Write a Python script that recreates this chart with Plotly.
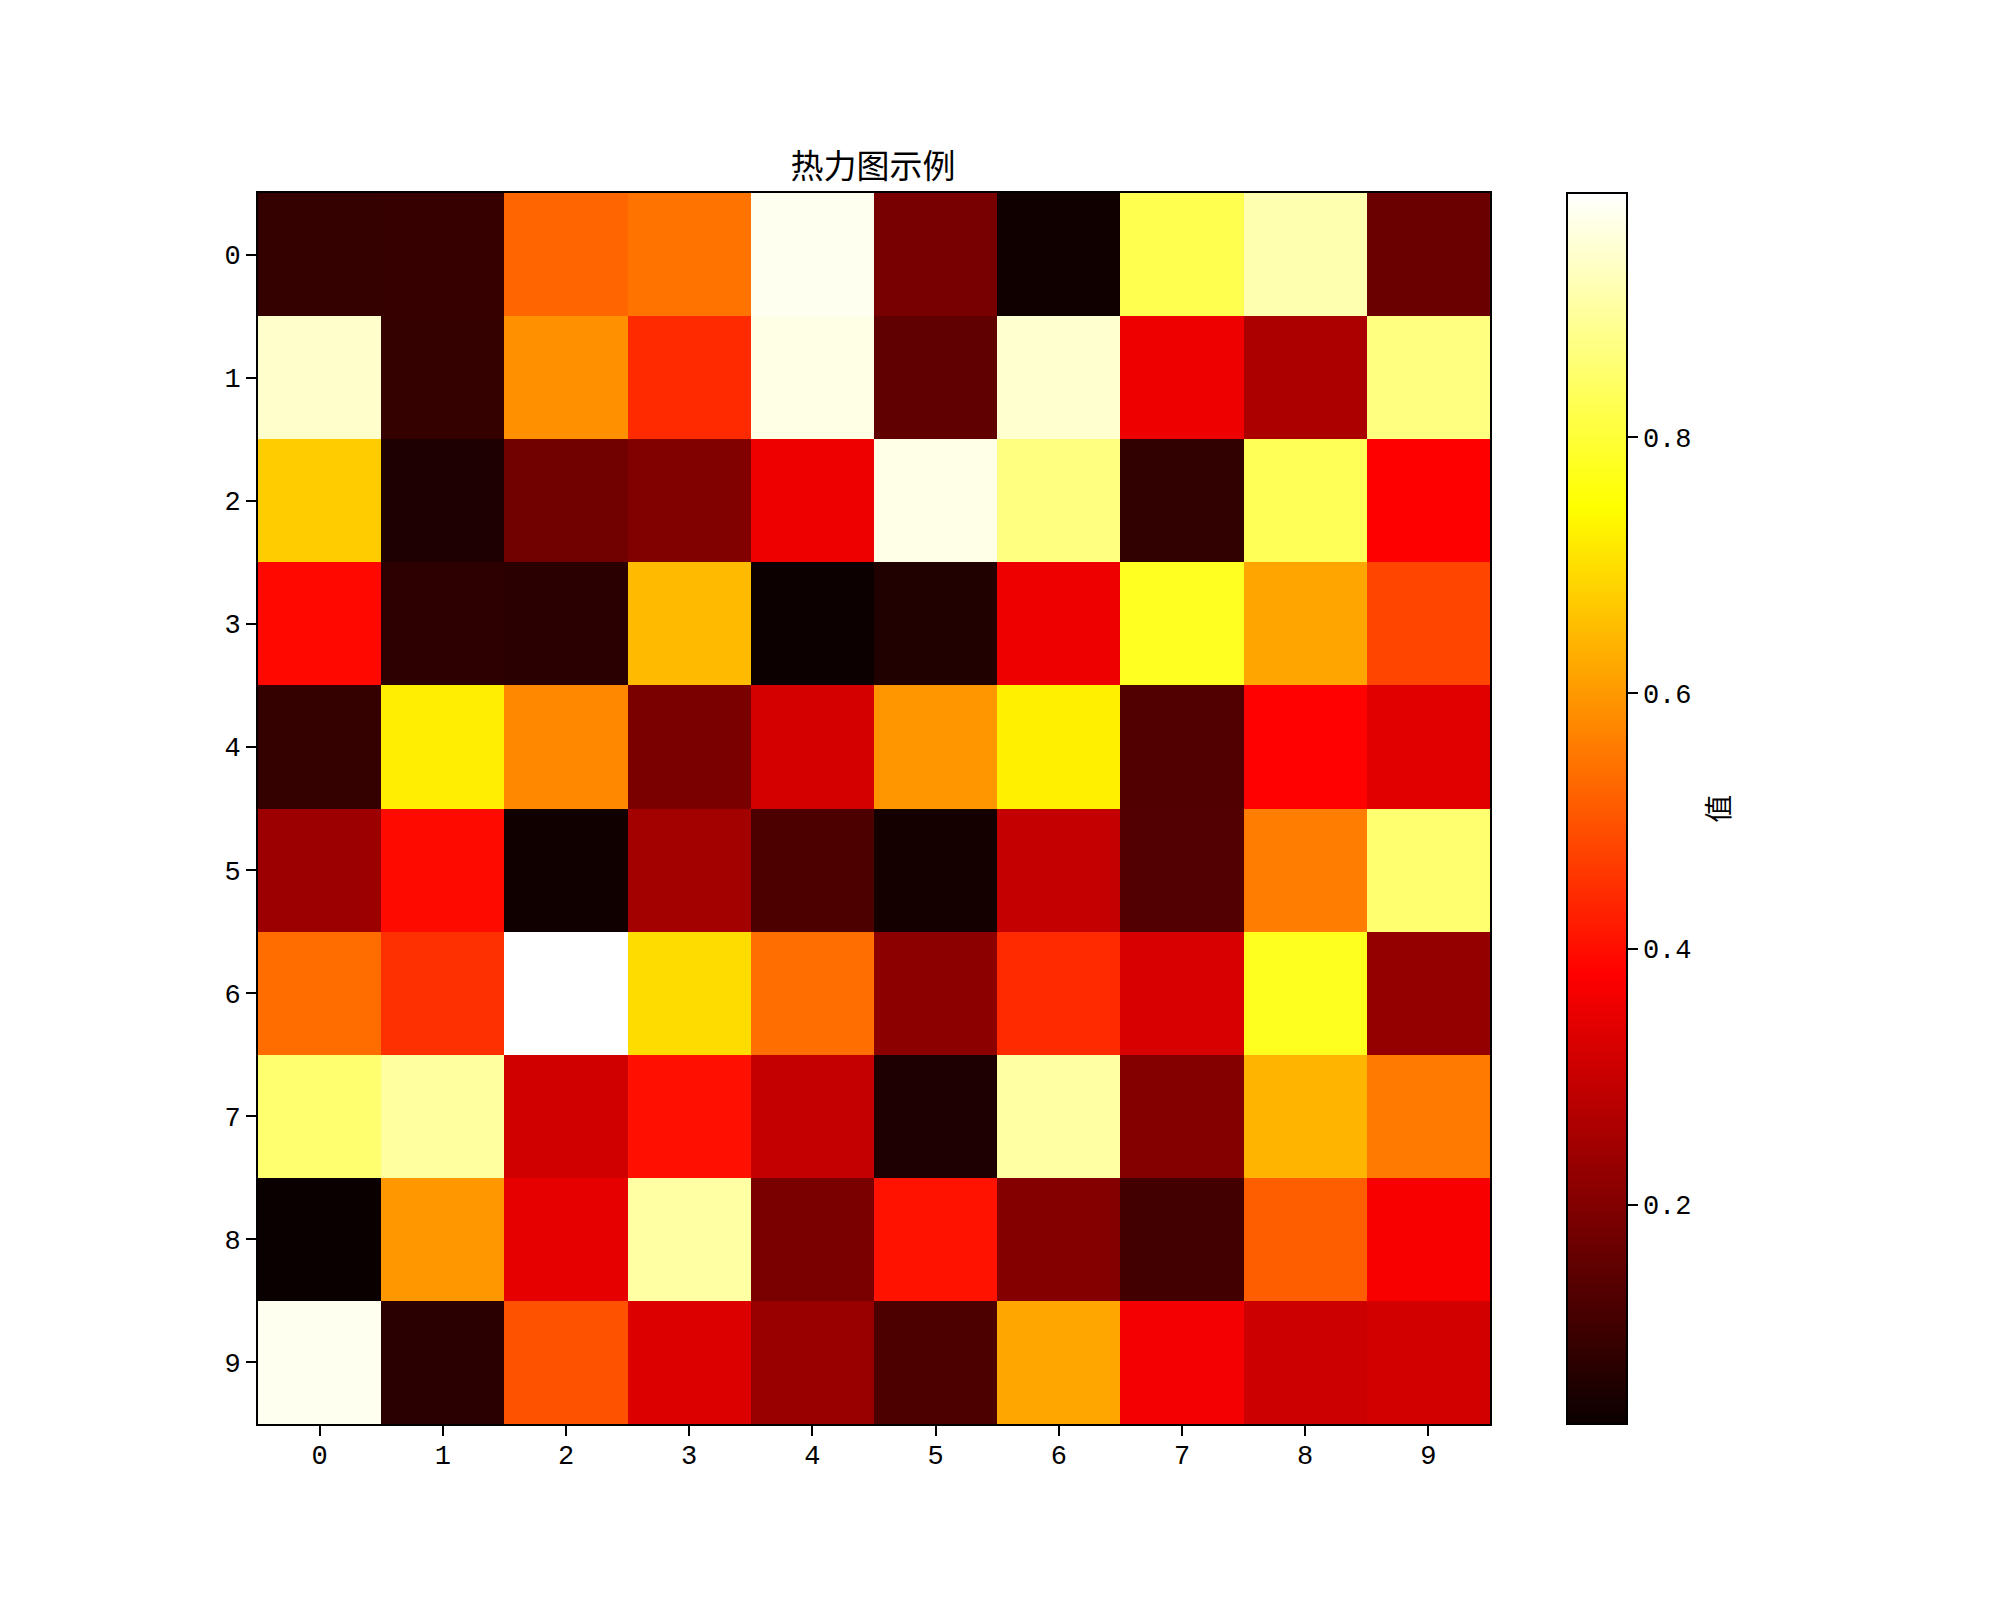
import plotly.graph_objects as go

x_labels = [str(i) for i in range(10)]
y_labels = [str(i) for i in range(10)]

row0 = [0.087, 0.091, 0.527, 0.545, 0.977, 0.186, 0.037, 0.823, 0.915, 0.166]
row1 = [0.942, 0.087, 0.587, 0.440, 0.967, 0.152, 0.946, 0.356, 0.258, 0.869]
row2 = [0.673, 0.057, 0.175, 0.198, 0.356, 0.969, 0.869, 0.083, 0.831, 0.380]
row3 = [0.391, 0.076, 0.073, 0.649, 0.031, 0.060, 0.356, 0.779, 0.617, 0.479]
row4 = [0.087, 0.722, 0.575, 0.189, 0.318, 0.596, 0.725, 0.129, 0.382, 0.336]
row5 = [0.237, 0.394, 0.037, 0.247, 0.123, 0.043, 0.295, 0.132, 0.560, 0.854]
row6 = [0.535, 0.449, 0.991, 0.696, 0.538, 0.215, 0.440, 0.324, 0.775, 0.226]
row7 = [0.854, 0.900, 0.310, 0.403, 0.295, 0.057, 0.904, 0.203, 0.639, 0.555]
row8 = [0.0285, 0.598, 0.344, 0.904, 0.189, 0.406, 0.203, 0.109, 0.515, 0.370]
row9 = [0.977, 0.074, 0.498, 0.330, 0.232, 0.123, 0.619, 0.364, 0.307, 0.316]

z = [row0, row1, row2, row3, row4, row5, row6, row7, row8, row9]

colorbar_ticks = [0.2, 0.4, 0.6, 0.8]

# matplotlib "hot" colormap
hot = [
    [0.0, "rgb(11,0,0)"],
    [0.365079, "rgb(255,0,0)"],
    [0.746032, "rgb(255,255,0)"],
    [1.0, "rgb(255,255,255)"],
]

W, H = 1999, 1599
OFF = 8  # page body margin
L, R, T, B = 257.5 - OFF, 1490.5 - OFF, 192.5 - OFF, 1424.5 - OFF

font_cjk = "Noto Sans CJK SC, Noto Sans, DejaVu Sans"
tick_font = dict(family="Liberation Mono, DejaVu Sans Mono, monospace", size=27, color="black")

fig = go.Figure(go.Heatmap(
    z=z,
    x=list(range(10)),
    y=list(range(10)),
    colorscale=hot,
    xgap=0, ygap=0,
    colorbar=dict(
        x=(1568 - OFF - L) / (R - L),
        xanchor="left",
        xpad=0,
        y=0.5,
        yanchor="middle",
        len=1.0,
        lenmode="fraction",
        thickness=60,
        thicknessmode="pixels",
        outlinewidth=2,
        outlinecolor="black",
        tickvals=colorbar_ticks,
        ticktext=[f"{v:.1f}" for v in colorbar_ticks],
        ticks="outside",
        ticklen=10,
        tickwidth=2,
        tickcolor="black",
        tickfont=tick_font,
        ypad=0,
    ),
))

fig.add_annotation(
    text="值",
    xref="paper", yref="paper",
    x=(1717 - OFF - L) / (R - L), y=0.5,
    xanchor="center", yanchor="middle",
    textangle=-90,
    showarrow=False,
    font=dict(family=font_cjk, size=28, color="black"),
)

fig.update_layout(
    width=W, height=H,
    margin=dict(l=L, r=W - R, t=T, b=H - B, pad=0),
    paper_bgcolor="white",
    plot_bgcolor="white",
    title=dict(
        text="热力图示例",
        x=(873 - OFF) / W, xanchor="center", xref="container",
        y=1 - (166 - OFF) / H, yanchor="middle",
        font=dict(family=font_cjk, size=33, color="black"),
    ),
    xaxis=dict(
        tickvals=list(range(10)), ticktext=x_labels,
        range=[-0.5, 9.5],
        showgrid=False, zeroline=False,
        showline=True, linecolor="black", linewidth=2, mirror=True,
        ticks="outside", ticklen=10, tickwidth=2, tickcolor="black",
        tickfont=tick_font,
        ticklabelstandoff=-4,
    ),
    yaxis=dict(
        tickvals=list(range(10)), ticktext=y_labels,
        range=[9.5, -0.5],
        showgrid=False, zeroline=False,
        showline=True, linecolor="black", linewidth=2, mirror=True,
        ticks="outside", ticklen=10, tickwidth=2, tickcolor="black",
        tickfont=tick_font,
    ),
)

fig.write_html("out.html")
